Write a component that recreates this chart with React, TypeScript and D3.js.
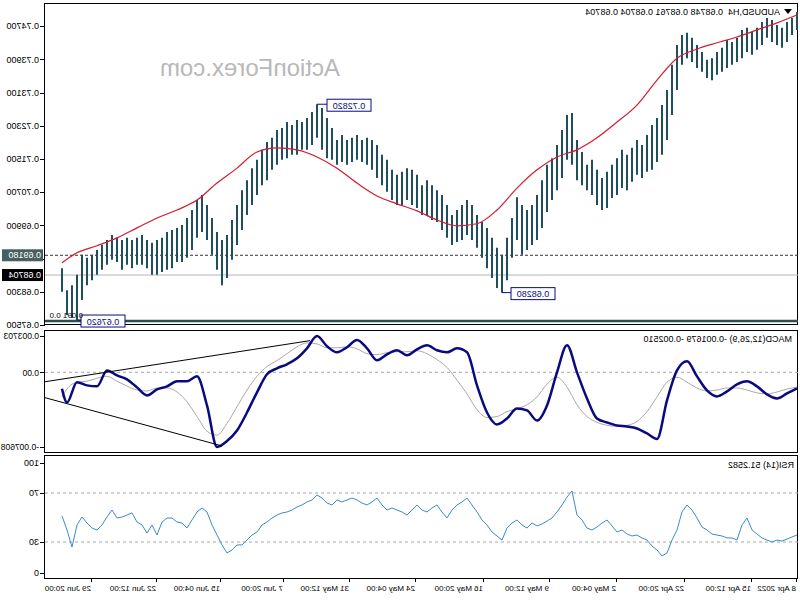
import React from "react";
import * as d3 from "d3";

// ---- Data (chronological, 8 Apr 2022 -> 29 Jun 2022, H4 bars sampled) ----
const priceHigh = [
  0.7504, 0.749, 0.748, 0.7466, 0.7473, 0.7485, 0.749, 0.748, 0.7466, 0.7456,
  0.7466, 0.7461, 0.7442, 0.7432, 0.7437, 0.7418, 0.7408, 0.7393, 0.7389, 0.7408,
  0.7425, 0.7442, 0.7454, 0.7449, 0.7425, 0.7377, 0.7316, 0.728, 0.7249, 0.7232,
  0.7208, 0.7184, 0.7196, 0.7177, 0.716, 0.7172, 0.7152, 0.7136, 0.7119, 0.7104,
  0.7124, 0.7148, 0.7136, 0.7167, 0.7196, 0.7261, 0.7256, 0.722, 0.7184, 0.7152,
  0.7136, 0.7099, 0.7063, 0.7039, 0.7027, 0.7039, 0.7058, 0.7008, 0.696, 0.6919,
  0.6936, 0.696, 0.6984, 0.6998, 0.7015, 0.7039, 0.7051, 0.7039, 0.7027, 0.7015,
  0.7039, 0.7063, 0.7075, 0.7087, 0.7099, 0.7087, 0.7112, 0.7124, 0.7128, 0.7119,
  0.7112, 0.7124, 0.7148, 0.716, 0.7184, 0.7196, 0.7201, 0.7196, 0.7208, 0.7201,
  0.7196, 0.7208, 0.7196, 0.7225, 0.7249, 0.7273, 0.7282, 0.7263, 0.7249, 0.7239,
  0.7244, 0.7232, 0.7239, 0.7225, 0.722, 0.7201, 0.7191, 0.7172, 0.7148, 0.7128,
  0.7099, 0.7075, 0.7039, 0.7003, 0.6967, 0.6955, 0.6974, 0.7008, 0.7039, 0.7063,
  0.7051, 0.7027, 0.7008, 0.6991, 0.6984, 0.6979, 0.6974, 0.696, 0.6955, 0.6948,
  0.6955, 0.6967, 0.696, 0.6955, 0.696, 0.6955, 0.696, 0.6967, 0.6955, 0.6943,
  0.6931, 0.6919, 0.6912, 0.6919, 0.6871, 0.6846, 0.6834, 0.6887,
];
const priceLow = [
  0.7461, 0.7449, 0.7432, 0.7418, 0.7425, 0.7432, 0.7442, 0.7425, 0.7413, 0.7401,
  0.7408, 0.7393, 0.7384, 0.7377, 0.7369, 0.736, 0.7353, 0.734, 0.7345, 0.736,
  0.7369, 0.7384, 0.7393, 0.7377, 0.7316, 0.7256, 0.7196, 0.716, 0.7143, 0.7124,
  0.7119, 0.7104, 0.7112, 0.7095, 0.7075, 0.708, 0.7063, 0.7056, 0.7032, 0.7027,
  0.7039, 0.7063, 0.7075, 0.7087, 0.7099, 0.7136, 0.7148, 0.7104, 0.7075, 0.7051,
  0.7022, 0.6984, 0.6955, 0.6943, 0.6931, 0.6919, 0.6955, 0.6912, 0.6858, 0.6828,
  0.6839, 0.6863, 0.6887, 0.6912, 0.6936, 0.6955, 0.6967, 0.6955, 0.695, 0.6943,
  0.696, 0.6979, 0.6998, 0.7003, 0.7015, 0.7015, 0.7032, 0.7039, 0.7051, 0.7039,
  0.7039, 0.7051, 0.7071, 0.7087, 0.7104, 0.7124, 0.7136, 0.7143, 0.7148, 0.7143,
  0.7136, 0.7143, 0.7136, 0.7148, 0.7152, 0.7172, 0.7201, 0.7184, 0.7172, 0.7172,
  0.716, 0.716, 0.7152, 0.7148, 0.7136, 0.7124, 0.7099, 0.7087, 0.7063, 0.7039,
  0.7015, 0.6979, 0.6943, 0.6907, 0.6863, 0.6846, 0.6883, 0.6919, 0.6955, 0.6974,
  0.696, 0.6931, 0.6912, 0.6902, 0.6902, 0.6887, 0.6883, 0.6878, 0.6871, 0.6871,
  0.6887, 0.6895, 0.6895, 0.6887, 0.6895, 0.6883, 0.6902, 0.6907, 0.6895, 0.6883,
  0.6871, 0.6858, 0.6846, 0.681, 0.6762, 0.6767, 0.6774, 0.683,
];
const lastPrice = 0.68704;
const dashedLevel = 0.6918;
const lowLevel = 0.6762;

// moving average, one value every 4 bars (last = final bar)
const maValues = [
  0.7497, 0.7478, 0.7461, 0.7444, 0.743, 0.7415, 0.7393, 0.734, 0.728, 0.7239,
  0.7201, 0.7172, 0.7155, 0.7124, 0.708, 0.7027, 0.6994, 0.6989, 0.7003, 0.7025,
  0.7042, 0.7061, 0.7092, 0.7128, 0.7155, 0.7172, 0.7177, 0.7167, 0.7128, 0.7092,
  0.7051, 0.7027, 0.7008, 0.6984, 0.696, 0.6941, 0.6924, 0.69,
];

// MACD, one value every 2 bars (last = final bar)
const macdMain = [
  -0.00164, -0.00215, -0.00266, -0.00225, -0.00143, -0.00092, -0.00123, -0.00194, -0.00245, -0.00184,
  -0.00041, 0.00112, 0.0002, -0.00286, -0.0068, -0.00623, -0.00572, -0.00552, -0.00542, -0.00511,
  -0.0047, -0.00266, 0.0, 0.00276, 0.0, -0.00337, -0.00491, -0.00388, -0.00368, -0.0047,
  -0.00531, -0.00409, -0.00133, 0.00204, 0.00245, 0.00204, 0.00225, 0.00276, 0.00235, 0.00174,
  0.00225, 0.00184, 0.00123, 0.00245, 0.0033, 0.00256, 0.00204, 0.00266, 0.0037, 0.00245,
  0.00143, 0.00082, 0.00041, -0.0002, -0.00204, -0.00409, -0.00593, -0.007, -0.0076, -0.00337,
  -0.00041, -0.00092, -0.00092, -0.00143, -0.00174, -0.00235, -0.00153, -0.00072, -0.00031, 0.0002,
  -0.00143, -0.00133, -0.00102, -0.00307, -0.001679,
];
const macdSignal = [
  -0.0015, -0.0017, -0.002, -0.0022, -0.0021, -0.0018, -0.0016, -0.0016, -0.0018, -0.0019,
  -0.0016, -0.001, -0.0005, -0.001, -0.0025, -0.004, -0.005, -0.0054, -0.0055, -0.0054,
  -0.0051, -0.0045, -0.0033, -0.0015, -0.0005, -0.0012, -0.0025, -0.0033, -0.0037, -0.004,
  -0.0045, -0.0046, -0.0038, -0.0022, -0.0008, 0.0005, 0.0013, 0.0019, 0.0022, 0.0021,
  0.0021, 0.002, 0.0018, 0.0019, 0.0024, 0.0026, 0.0025, 0.0025, 0.0029, 0.003,
  0.0026, 0.0019, 0.0012, 0.0006, -0.0004, -0.0018, -0.0035, -0.0052, -0.0064, -0.006,
  -0.0045, -0.003, -0.002, -0.0016, -0.0016, -0.0019, -0.0018, -0.0014, -0.0009, -0.0004,
  -0.0006, -0.0009, -0.001, -0.0017, -0.00251,
];
// MACD trendlines: [bar, value] pairs
const macdTrendUpper = [[97.4, 0.00323], [150.4, -0.00096]];
const macdTrendLower = [[150.4, -0.00258], [115, -0.0075]];

// RSI(14), one value per bar
const rsiValues = [
  35.7, 34.1, 32.4, 30.8, 31.6, 30.0, 31.6, 33.3, 36.5, 39.8,
  49.6, 43.9, 31.6, 33.3, 33.3, 34.9, 35.7, 36.5, 39.8, 42.2,
  49.6, 56.1, 60.2, 54.5, 39.8, 31.6, 21.0, 18.6, 23.5, 26.7,
  31.6, 33.3, 35.7, 34.9, 36.5, 39.8, 38.2, 43.1, 48.0, 45.5,
  42.2, 39.8, 41.4, 48.0, 52.0, 71.6, 66.7, 60.2, 54.5, 49.6,
  47.1, 44.7, 43.1, 45.5, 41.4, 43.9, 48.0, 45.5, 41.4, 31.6,
  34.9, 38.2, 43.9, 48.0, 54.5, 60.2, 65.9, 62.7, 60.2, 56.1,
  49.6, 54.5, 60.2, 57.8, 54.5, 56.1, 60.2, 56.1, 52.0, 54.5,
  56.1, 57.8, 56.1, 60.2, 65.9, 62.7, 60.2, 61.8, 64.3, 65.9,
  64.3, 62.7, 64.3, 60.2, 61.8, 65.9, 68.4, 64.3, 62.7, 60.2,
  58.6, 56.1, 54.5, 53.7, 52.0, 49.6, 46.3, 43.9, 38.2, 35.7,
  31.6, 27.6, 27.6, 23.5, 21.0, 27.6, 35.7, 43.9, 54.5, 57.8,
  54.5, 48.0, 41.4, 45.5, 46.3, 49.6, 49.6, 46.3, 35.7, 43.9,
  37.3, 43.9, 46.3, 53.7, 52.0, 50.4, 49.6, 56.1, 50.4, 43.9,
  39.8, 41.4, 45.5, 50.4, 43.9, 25.9, 39.8, 51.26,
];

const priceTicks = [0.675, 0.683, 0.691, 0.699, 0.707, 0.715, 0.723, 0.731, 0.739, 0.747];
const macdTicks = [0.003703, 0, -0.007608];
const macdTickLabels = ["0.003703", "0.00", "-0.007608"];
const rsiTicks = [100, 70, 30, 0];
const xTickLabels = [
  "8 Apr 2022", "15 Apr 12:00", "22 Apr 20:00", "2 May 04:00", "9 May 12:00", "16 May 20:00",
  "24 May 04:00", "31 May 12:00", "7 Jun 20:00", "15 Jun 04:00", "22 Jun 12:00", "29 Jun 20:00",
];
const xTickBars = [0, 9, 22.4, 36, 49.4, 62.6, 76.2, 89.4, 102.6, 115.2, 128, 141];

const headerText = "AUDUSD,H4  0.68748 0.68761 0.68704 0.68704";
const macdHeader = "MACD(12,26,9) -0.001679 -0.002510";
const rsiHeader = "RSI(14) 51.2582";

const FONT = "'Liberation Sans', Arial, sans-serif";

export default function App() {
  const N = priceHigh.length;
  const L = 2;
  const R = 755;
  const mainTop = 3, mainBot = 324;
  const macdTop = 330, macdBot = 452;
  const rsiTop = 455, rsiBot = 578;

  const x = d3.scaleLinear().domain([0, N - 1]).range([3, 738]);
  const yP = d3.scaleLinear().domain([0.675, 0.747]).range([325, 26.2]);
  const yM = d3.scaleLinear().domain([-0.007608, 0.003703]).range([447, 336]);
  const yR = d3.scaleLinear().domain([0, 100]).range([578.75, 456.25]);

  const maBar = (k: number) => Math.min(k * 4, N - 1);
  const mdBar = (k: number) => Math.min(k * 2, N - 1);

  const maLine = d3.line<number>().x((_, k) => x(maBar(k))).y((d) => yP(d)).curve(d3.curveMonotoneX);
  const macdLine = d3.line<number>().x((_, k) => x(mdBar(k))).y((d) => yM(d)).curve(d3.curveMonotoneX);
  const rsiLine = d3.line<number>().x((_, i) => x(i)).y((d) => yR(d));
  const trend = d3.line<number[]>().x((d) => x(d[0])).y((d) => yM(d[1]));

  const barColor = "#1f4f5e";
  const navy = "#0a0a80";

  const extLabel = (bar: number, value: number, text: string, gap: number) => {
    const ax = x(bar);
    const ay = yP(value);
    const bw = 44, bh = 12;
    const bx = ax - gap - bw;
    return (
      <g key={text}>
        <line x1={ax} x2={bx + bw} y1={ay} y2={ay} stroke={navy} strokeWidth={1} />
        <rect x={bx} y={ay - bh / 2 + 1} width={bw} height={bh} fill="#fff" stroke={navy} strokeWidth={1} />
        <text x={bx + bw / 2} y={ay + 4.5} textAnchor="middle" fontSize={9} fill={navy} fontFamily={FONT}>
          {text}
        </text>
      </g>
    );
  };

  const axisLabel = (y: number, text: string, key: string, fs = 9) => (
    <g key={key}>
      <line x1={R} x2={R + 5} y1={Math.round(y) + 0.5} y2={Math.round(y) + 0.5} stroke="#000" />
      <text x={R + 6} y={y + 3.2} fontSize={fs} fontFamily={FONT} fill="#000">
        {text}
      </text>
    </g>
  );

  const boxed = [dashedLevel, lastPrice];
  const visiblePriceTicks = priceTicks.filter((p) => boxed.every((b) => Math.abs(yP(p) - yP(b)) > 8));

  return (
    <svg width={800} height={600} style={{ position: "absolute", left: 0, top: 0, background: "#fff" }}>
      <g transform="translate(800,0) scale(-1,1)">
        <rect x={0} y={0} width={800} height={600} fill="#fff" />

        {/* watermark */}
        <text x={460} y={76} fontSize={24} fill="#b8b8b8" fontFamily={FONT}>
          ActionForex.com
        </text>

        {/* main panel */}
        <rect x={L + 0.5} y={mainTop + 0.5} width={R - L} height={mainBot - mainTop} fill="none" stroke="#000" />
        <line x1={L} x2={R} y1={yP(lastPrice)} y2={yP(lastPrice)} stroke="#b4b4b4" strokeWidth={1} />
        <line x1={L} x2={R} y1={yP(dashedLevel)} y2={yP(dashedLevel)} stroke="#333" strokeDasharray="3,2" strokeWidth={1} />
        <line x1={L} x2={R} y1={yP(lowLevel) + 1} y2={yP(lowLevel) + 1} stroke="#2f4f4f" strokeWidth={2.5} />

        {priceHigh.map((h, i) => (
          <line
            key={"b" + i}
            x1={Math.round(x(i))}
            x2={Math.round(x(i))}
            y1={yP(h)}
            y2={yP(priceLow[i])}
            stroke={barColor}
            strokeWidth={2}
          />
        ))}
        <path d={maLine(maValues) || ""} fill="none" stroke="#d41c2c" strokeWidth={1.2} />

        {extLabel(96, 0.7282, "0.72820", 10)}
        {extLabel(59, 0.6828, "0.68280", 9)}
        {extLabel(144, 0.6762, "0.67620", 4)}
        <text x={717} y={318} fontSize={8} fontFamily={FONT} fill="#000">0.091 0.0</text>

        {/* header */}
        <path d="M8,9 L16,9 L12,14 Z" fill="#000" />
        <text x={20} y={15} fontSize={9} fontFamily={FONT} fill="#000" style={{ whiteSpace: "pre" }}>
          {headerText}
        </text>

        {/* price axis */}
        {visiblePriceTicks.map((p) => axisLabel(yP(p), p.toFixed(5), "p" + p))}
        <line x1={R} x2={R + 5} y1={Math.round(yP(0.691)) + 0.5} y2={Math.round(yP(0.691)) + 0.5} stroke="#000" />
        <rect x={757} y={yP(dashedLevel) - 6} width={41} height={12} fill="#465f5f" />
        <text x={759} y={yP(dashedLevel) + 3.2} fontSize={9} fontFamily={FONT} fill="#fff">
          {dashedLevel.toFixed(5)}
        </text>
        <rect x={757} y={yP(lastPrice) - 6} width={41} height={12} fill="#000" />
        <text x={759} y={yP(lastPrice) + 3.2} fontSize={9} fontFamily={FONT} fill="#fff">
          {lastPrice.toFixed(5)}
        </text>

        {/* MACD panel */}
        <rect x={L + 0.5} y={macdTop + 0.5} width={R - L} height={macdBot - macdTop} fill="none" stroke="#000" />
        <line x1={L} x2={R} y1={yM(0)} y2={yM(0)} stroke="#a8a8a8" strokeDasharray="3,3" />
        <path d={macdLine(macdSignal) || ""} fill="none" stroke="#a9a9a9" strokeWidth={1} />
        <path d={macdLine(macdMain) || ""} fill="none" stroke={navy} strokeWidth={2.5} />
        <path d={trend(macdTrendUpper) || ""} fill="none" stroke="#000" strokeWidth={1} />
        <path d={trend(macdTrendLower) || ""} fill="none" stroke="#000" strokeWidth={1} />
        <text x={8} y={342} fontSize={9} fontFamily={FONT} fill="#000">
          {macdHeader}
        </text>
        {macdTicks.map((v, i) => axisLabel(yM(v), macdTickLabels[i], "m" + i, 8.5))}

        {/* RSI panel */}
        <rect x={L + 0.5} y={rsiTop + 0.5} width={R - L} height={rsiBot - rsiTop} fill="none" stroke="#000" />
        <line x1={L} x2={R} y1={yR(70)} y2={yR(70)} stroke="#a8a8a8" strokeDasharray="3,3" />
        <line x1={L} x2={R} y1={yR(30)} y2={yR(30)} stroke="#a8a8a8" strokeDasharray="3,3" />
        <path d={rsiLine(rsiValues) || ""} fill="none" stroke="#3b8bd0" strokeWidth={1} />
        <text x={6} y={468} fontSize={9} fontFamily={FONT} fill="#000">
          {rsiHeader}
        </text>
        {rsiTicks.map((v) => {
          const yy = v === 100 ? yR(v) + 7 : v === 0 ? yR(v) - 6 : yR(v);
          return axisLabel(yy, String(v), "r" + v);
        })}

        {/* time axis */}
        {xTickBars.map((b, i) => (
          <g key={"t" + i}>
            <line x1={Math.round(x(b)) + 0.5} x2={Math.round(x(b)) + 0.5} y1={rsiBot} y2={rsiBot + 4} stroke="#000" />
            <text x={x(b) + 1} y={591} fontSize={8} fontFamily={FONT} fill="#000">
              {xTickLabels[i]}
            </text>
          </g>
        ))}
      </g>
    </svg>
  );
}
